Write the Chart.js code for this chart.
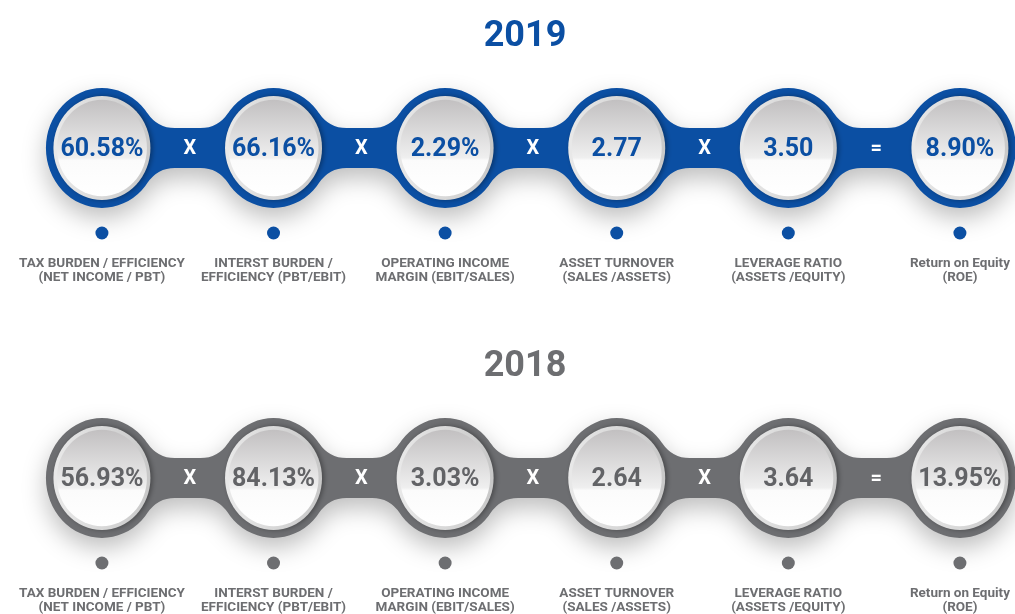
<!DOCTYPE html>
<html>
<head>
<meta charset="utf-8">
<script src="https://cdn.jsdelivr.net/npm/chart.js@4/dist/chart.umd.min.js"></script>
<style>
  html, body { margin: 0; padding: 0; background: #ffffff; }
  #wrap { width: 1015px; height: 614px; position: relative; }
</style>
</head>
<body>
<div id="wrap"><canvas id="dupont"></canvas></div>
<script>
// DuPont breakdown, one row per year
var years = ['2019', '2018'];
var metricLabels = [
  ['TAX BURDEN / EFFICIENCY', '(NET INCOME / PBT)'],
  ['INTERST BURDEN /', 'EFFICIENCY (PBT/EBIT)'],
  ['OPERATING INCOME', 'MARGIN (EBIT/SALES)'],
  ['ASSET TURNOVER', '(SALES /ASSETS)'],
  ['LEVERAGE RATIO', '(ASSETS /EQUITY)'],
  ['Return on Equity', '(ROE)']
];
var values2019 = [60.58, 66.16, 2.29, 2.77, 3.50, 8.90];
var values2018 = [56.93, 84.13, 3.03, 2.64, 3.64, 13.95];
var units = ['%', '%', '%', '', '', '%'];
var operators = ['X', 'X', 'X', 'X', '='];

var rowColors = ['#0b4fa3', '#6d6e71'];
var textColors = ['#0b4fa3', '#626366'];
var labelGrey = '#6d6e71';

function rowData(vals, row) {
  return vals.map(function (v, i) { return { x: i, y: row, v: v }; });
}

var R = 56, H = 18.7, F = 34, SY = 1.07, RIN = 45;

function bridge(ctx, x1, x2) {
  var dx = Math.sqrt((R + F) * (R + F) - (H + F) * (H + F));
  var k = R / (R + F);
  var fa = { x: x1 + dx, y: -H - F };
  var fb = { x: x2 - dx, y: -H - F };
  var fc = { x: x2 - dx, y: H + F };
  var fd = { x: x1 + dx, y: H + F };
  var t1 = { x: x1 + (fa.x - x1) * k, y: fa.y * k };
  ctx.moveTo(t1.x, t1.y);
  ctx.arc(fa.x, fa.y, F, Math.atan2(t1.y - fa.y, t1.x - fa.x), Math.PI / 2, true);
  ctx.lineTo(fb.x, -H);
  var t2 = { x: x2 + (fb.x - x2) * k, y: fb.y * k };
  ctx.arc(fb.x, fb.y, F, Math.PI / 2, Math.atan2(t2.y - fb.y, t2.x - fb.x), true);
  var t3 = { x: x2 + (fc.x - x2) * k, y: fc.y * k };
  ctx.lineTo(t3.x, t3.y);
  ctx.arc(fc.x, fc.y, F, Math.atan2(t3.y - fc.y, t3.x - fc.x), -Math.PI / 2, true);
  ctx.lineTo(fd.x, H);
  var t4 = { x: x1 + (fd.x - x1) * k, y: fd.y * k };
  ctx.arc(fd.x, fd.y, F, -Math.PI / 2, Math.atan2(t4.y - fd.y, t4.x - fd.x), true);
  ctx.closePath();
}

var chainPlugin = {
  id: 'chain',
  beforeDatasetsDraw: function (chart) {
    var ctx = chart.ctx;
    chart.data.datasets.forEach(function (ds, di) {
      var pts = chart.getDatasetMeta(di).data;
      var cy = pts[0].y;
      ctx.save();
      ctx.translate(0, cy);
      ctx.scale(1, SY);
      ctx.shadowColor = 'rgba(0,0,0,0.26)';
      ctx.shadowBlur = 24;
      ctx.shadowOffsetY = 10;
      ctx.fillStyle = rowColors[di];
      ctx.beginPath();
      pts.forEach(function (p) {
        ctx.moveTo(p.x + R, 0);
        ctx.arc(p.x, 0, R, 0, Math.PI * 2);
      });
      for (var i = 0; i < pts.length - 1; i++) bridge(ctx, pts[i].x, pts[i + 1].x);
      ctx.fill('nonzero');
      ctx.restore();
    });
  },
  afterDatasetsDraw: function (chart) {
    var ctx = chart.ctx;
    chart.data.datasets.forEach(function (ds, di) {
      var pts = chart.getDatasetMeta(di).data;
      var col = rowColors[di];
      pts.forEach(function (p, i) {
        // inner disc with light rim
        ctx.save();
        ctx.translate(p.x, p.y);
        ctx.scale(1, SY);
        ctx.shadowColor = 'rgba(0,0,0,0.35)';
        ctx.shadowBlur = 5;
        ctx.shadowOffsetX = 2;
        ctx.beginPath();
        ctx.arc(0, 0, RIN + 3.5, 0, Math.PI * 2);
        var rg = ctx.createLinearGradient(-RIN, 0, RIN, 0);
        rg.addColorStop(0, '#e8e8e8');
        rg.addColorStop(1, '#c9c9c9');
        ctx.fillStyle = rg;
        ctx.fill();
        ctx.restore();

        ctx.save();
        ctx.translate(p.x, p.y);
        ctx.scale(1, SY);
        var g = ctx.createLinearGradient(0, -RIN, 0, RIN);
        g.addColorStop(0, '#c2c0c1');
        g.addColorStop(0.6, '#efefef');
        g.addColorStop(0.63, '#fbfbfb');
        g.addColorStop(1, '#ffffff');
        ctx.beginPath();
        ctx.arc(0, 0, RIN, 0, Math.PI * 2);
        ctx.fillStyle = g;
        ctx.fill();
        ctx.restore();

        ctx.fillStyle = textColors[di];
        ctx.textAlign = 'center';
        ctx.textBaseline = 'middle';
        ctx.font = 'bold 25px Roboto';
        var d = ds.data[i].v;
        ctx.fillText(d.toFixed(2) + units[i], p.x, p.y + 2);

        // marker dot
        ctx.fillStyle = col;
        ctx.beginPath();
        ctx.arc(p.x, p.y + 85, 6.5, 0, Math.PI * 2);
        ctx.fill();

        ctx.fillStyle = labelGrey;
        ctx.font = 'bold 13.5px Roboto';
        ctx.fillText(metricLabels[i][0], p.x, p.y + 116);
        ctx.fillText(metricLabels[i][1], p.x, p.y + 130);

        if (i < operators.length) {
          var q = pts[i + 1];
          ctx.fillStyle = '#ffffff';
          ctx.font = 'bold 20px Roboto';
          ctx.fillText(operators[i], (p.x + q.x) / 2 + 2, p.y + 1);
        }
      });
      // year heading
      ctx.fillStyle = col;
      ctx.font = 'bold 36px Roboto';
      ctx.textAlign = 'center';
      ctx.textBaseline = 'middle';
      ctx.fillText(ds.label, 525, pts[0].y - 111);
    });
  }
};

new Chart(document.getElementById('dupont'), {
  type: 'scatter',
  data: {
    datasets: [
      { label: years[0], data: rowData(values2019, 0), pointRadius: 0, backgroundColor: rowColors[0] },
      { label: years[1], data: rowData(values2018, 1), pointRadius: 0, backgroundColor: rowColors[1] }
    ]
  },
  options: {
    responsive: true,
    maintainAspectRatio: false,
    animation: false,
    layout: { padding: 0, autoPadding: false },
    scales: {
      x: { type: 'linear', min: -0.594, max: 5.321, display: false },
      y: { type: 'linear', min: -0.4485, max: 1.4121, reverse: true, display: false }
    },
    plugins: { legend: { display: false }, tooltip: { enabled: false } },
    events: []
  },
  plugins: [chainPlugin]
});
</script>
</body>
</html>
